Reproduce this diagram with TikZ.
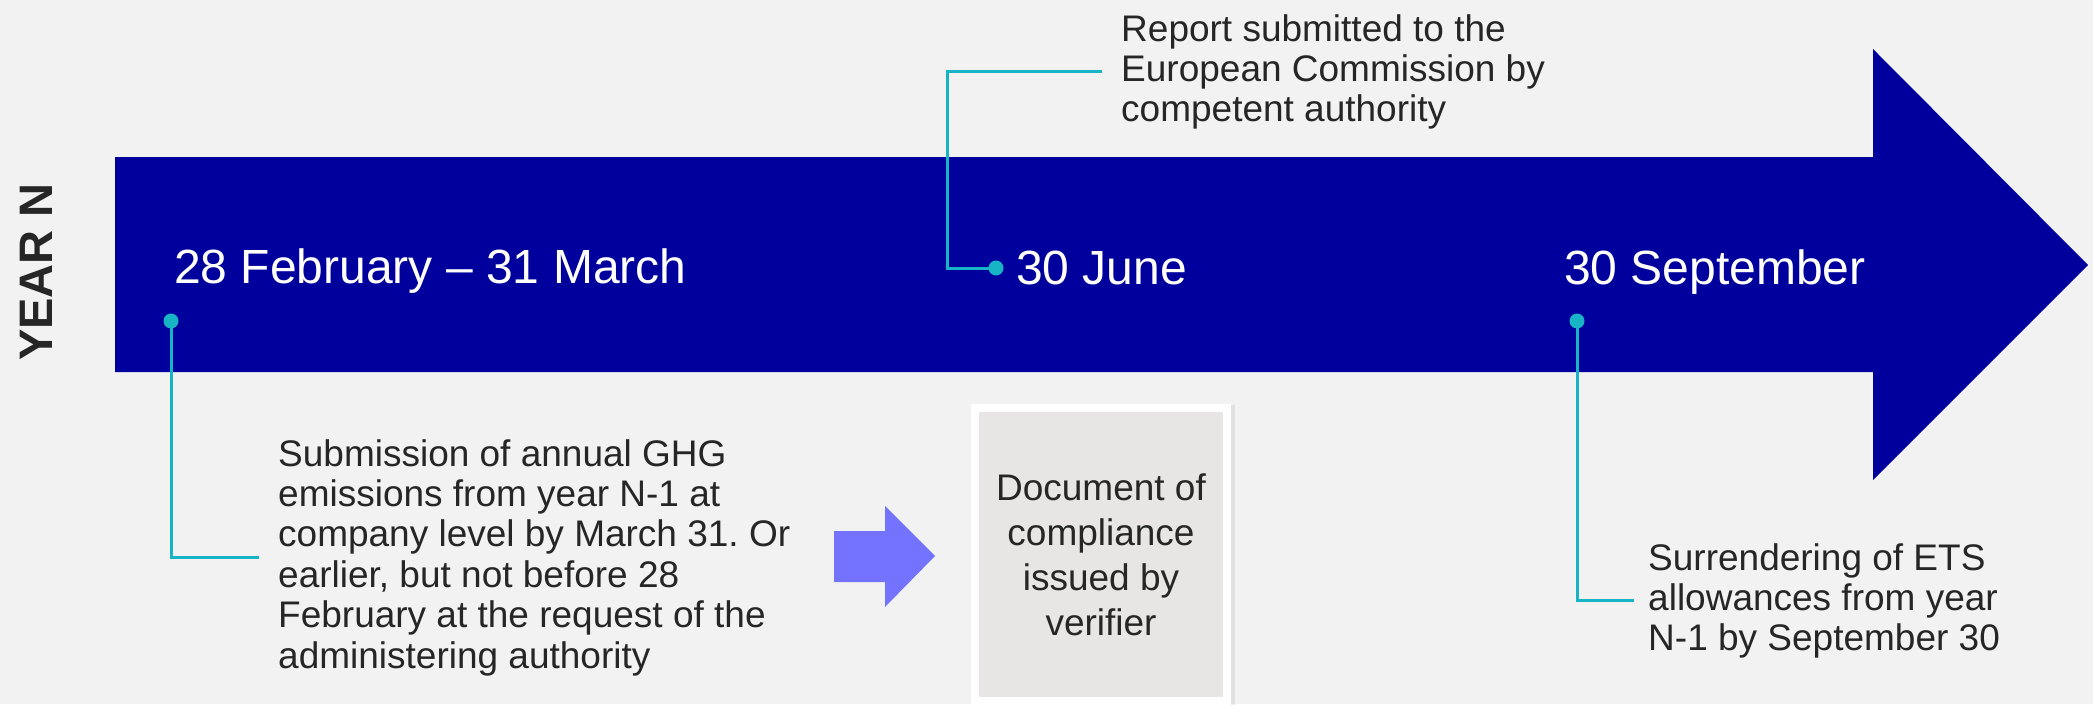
\documentclass[tikz,border=0pt]{standalone}
\usepackage{fontspec}
\setmainfont{Liberation Sans}
\usetikzlibrary{shadows}
\frenchspacing
\definecolor{page-grey}{HTML}{F2F2F2}
\definecolor{navy}{HTML}{00009C}
\definecolor{teal-line}{HTML}{17B4C6}
\definecolor{ink}{HTML}{262626}
\definecolor{light-violet}{HTML}{7373FF}
\definecolor{doc-grey}{HTML}{E7E6E4}
\tikzset{
    year-label/.style = {text=ink, font=\fontsize{47}{50}\selectfont\bfseries, inner sep=0pt},
    date-label/.style = {text=white, font=\fontsize{48}{54}\selectfont, inner sep=0pt, anchor=base west},
    note-text/.style = {text=ink, font=\fontsize{37}{40.4}\selectfont, align=left, inner sep=0pt, anchor=north west},
    time-dot/.style = {circle, fill=teal-line, minimum size=15pt, inner sep=0pt},
    time-link/.style = {draw=teal-line, line width=3pt},
    doc-frame/.style = {fill=white, minimum width=260pt, minimum height=301pt, inner sep=0pt,
        drop shadow={shadow xshift=4pt, shadow yshift=-1pt, opacity=0.12, fill=black!60}},
    doc-box/.style = {fill=doc-grey, text=ink, font=\fontsize{37}{45}\selectfont, align=center,
        minimum width=244pt, minimum height=285pt, inner sep=0pt},
}

\begin{document}
\begin{tikzpicture}[x=1pt, y=-1pt]
\fill[page-grey] (0,0) rectangle (2093,704);
\useasboundingbox (0,0) rectangle (2093,704);

\fill[navy] (115,157) -- (1873,157) -- (1873,49) -- (2088,265) -- (1873,480) -- (1873,372) -- (115,372) -- cycle;

\node[year-label, rotate=90] (year) at (36,272) {YEAR N};

\node[date-label] (feb) at (174,283) {28 February -- 31 March};
\node[date-label] (jun) at (1016,284) {30 June};
\node[date-label] (sep) at (1564,284) {30 September};

\node[time-dot] (d1) at (171,321) {};
\node[time-dot] (d2) at (996,268) {};
\node[time-dot] (d3) at (1577,321) {};

\node[note-text] (sub) at (278,439) {Submission of annual GHG\\emissions from year N-1 at\\company level by March 31. Or\\earlier, but not before 28\\February at the request of the\\administering authority};
\node[note-text] (rep) at (1121,14) {Report submitted to the\\European Commission by\\competent authority};
\node[note-text] (sur) at (1648,543) {Surrendering of ETS\\allowances from year\\N-1 by September 30};

\draw[time-link] (d1.center) |- ([xshift=-19pt]sub.west);
\draw[time-link] (d2.center) -- ++(-49,0) |- ([xshift=-19pt]rep.west);
\draw[time-link] (d3.center) |- ([xshift=-14pt]sur.west);

\fill[light-violet] (834,531) -- (885,531) -- (885,506) -- (935,556) -- (885,607) -- (885,582) -- (834,582) -- cycle;

\node[doc-frame] (doc-back) at (1101,554.5) {};
\node[doc-box] (doc) at (1101,554.5) {Document of\\compliance\\issued by\\verifier};
\end{tikzpicture}
\end{document}
